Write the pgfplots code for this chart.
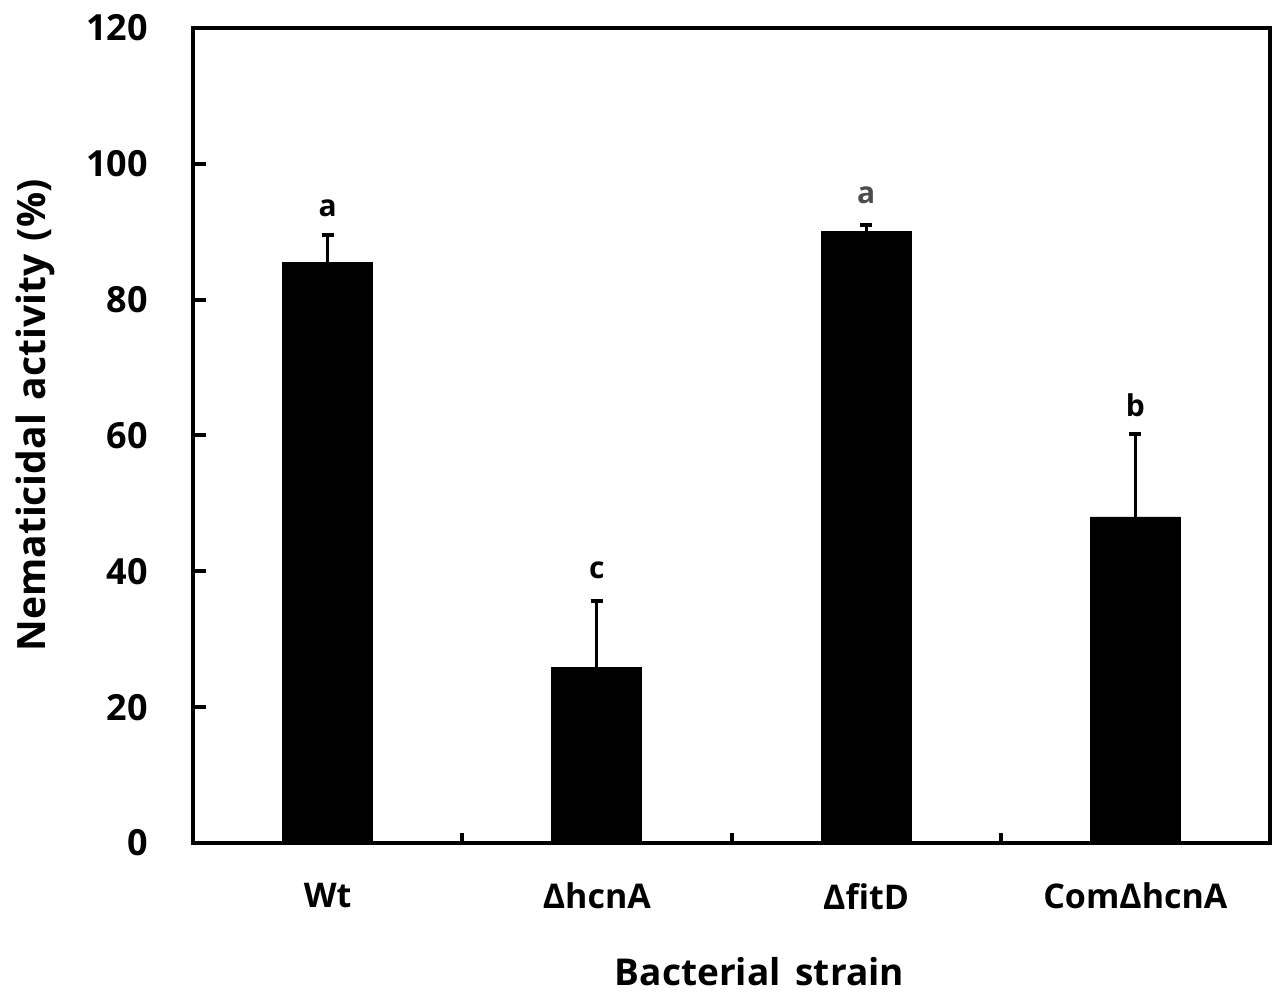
\documentclass[border=0pt]{standalone}
\usepackage{fontspec}
\setmainfont{Open Sans}
\usepackage{pgfplots}
\pgfplotsset{compat=1.18}
\begin{document}
\begin{tikzpicture}[x=1pt,y=1pt]
\begin{axis}[
  scale only axis,
  width=538.5pt, height=407.5pt,
  xmin=-0.5, xmax=3.5, ymin=0, ymax=120,
  axis line style={line width=2pt},
  xtick={0,1,2,3},
  xticklabels={Wt,ΔhcnA,ΔfitD,ComΔhcnA},
  major x tick style={draw=none},
  minor xtick={0.5,1.5,2.5},
  minor x tick style={black, line width=2pt},
  minor tick length=5pt,
  xtick pos=bottom,
  ytick={0,20,40,60,80,100,120},
  ytick pos=left,
  major tick length=6.5pt,
  y tick style={black, line width=2pt},
  tick label style={font=\fontsize{18}{20}\selectfont\bfseries},
  /pgf/number format/assume math mode=true,
  xticklabel style={yshift=-16.5pt, font=\fontsize{17}{19}\selectfont\bfseries},
  yticklabel style={xshift=-19pt},
  xlabel={Bacterial\hspace{0.4em}strain},
  ylabel={Nematicidal\hspace{0.35em}activity\hspace{0.35em}(\%)},
  xlabel style={font=\fontsize{18.5}{21}\selectfont\bfseries, yshift=-17pt, xshift=14pt},
  ylabel style={font=\fontsize{19.5}{22}\selectfont\bfseries, yshift=9pt, xshift=10pt},
  clip=false,
]
\addplot[ybar, bar width=45pt, fill=black, draw=black,
  error bars/.cd, y dir=plus, y explicit,
  error bar style={line width=1.5pt},
  error mark options={rotate=90, mark size=3pt, line width=2pt}]
coordinates {
  (0,85.5) +- (0,4.0)
  (1,25.8) +- (0,9.8)
  (2,90.0) +- (0,1.0)
  (3,48.0) +- (0,12.2)
};
\node[font=\fontsize{15}{17}\selectfont\bfseries] at (axis cs:0,93.5) {a};
\node[font=\fontsize{15}{17}\selectfont\bfseries] at (axis cs:1,40.2) {c};
\node[font=\fontsize{15}{17}\selectfont\bfseries, text=black!70] at (axis cs:2,95.4) {a};
\node[font=\fontsize{15}{17}\selectfont\bfseries] at (axis cs:3,64.4) {b};
\end{axis}
\pgfresetboundingbox
\path (current axis.south west) ++(-96.5pt,-75.5pt) coordinate (bl);
\path (current axis.north east) ++(1.5pt,14pt) coordinate (tr);
\path[use as bounding box] (bl) rectangle (tr);
\end{tikzpicture}
\end{document}
